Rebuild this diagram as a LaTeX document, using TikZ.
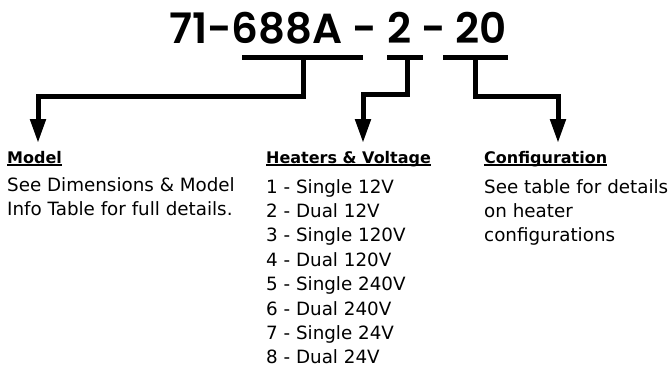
\documentclass[tikz,border=0pt]{standalone}
\usepackage{fontspec}
\setmainfont{DejaVu Sans}
\newfontfamily\titlefont{Poppins}[UprightFont=* SemiBold]
\usetikzlibrary{arrows.meta}

% heading with a thin rule just under the baseline
\newcommand\ulhead[1]{\setbox0\hbox{#1}\rlap{\rule[-2.6pt]{\wd0}{1.3pt}}\box0}

\tikzset{
  bar/.style={line width=5pt},
  lead/.style={line width=5pt,-{Triangle[width=15pt,length=24pt]}},
  heading/.style={anchor=base west,inner sep=0pt,font=\bfseries\fontsize{16}{24}\selectfont},
  info/.style={anchor=north west,inner sep=0pt,align=left,font=\fontsize{18.3}{24.4}\selectfont}
}

\begin{document}
\begin{tikzpicture}[x=1pt,y=-1pt]
  \useasboundingbox (0,0) rectangle (670,368);
  % part number
  \node[anchor=base,inner sep=0pt,font=\titlefont\fontsize{42}{42}\selectfont]
    (code) at (338,43) {71-688A - 2 - 20};
  % bars under the groups
  \draw[bar] (242,57) -- (363,57);
  \draw[bar] (387,57) -- (423,57);
  \draw[bar] (443,57) -- (508,57);
  \coordinate (m0) at (303,57);
  \coordinate (h0) at (407,57);
  \coordinate (c0) at (475,57);
  \coordinate (m1) at (38,143);
  \coordinate (h1) at (363,143);
  \coordinate (c1) at (558,143);
  % leaders
  \draw[lead] (m0) |- (38,96) -- (m1);
  \draw[lead] (h0) |- (363,94) -- (h1);
  \draw[lead] (c0) |- (558,96) -- (c1);
  % texts
  \node[heading] (model) at (7,163) {\ulhead{Model}};
  \node[info] (modeltxt) at (7,177) {See Dimensions \& Model\\Info Table for full details.};
  \node[heading] (heaters) at (266,163) {\ulhead{Heaters \& Voltage}};
  \node[info] (heatlist) at (266,179) {1 - Single 12V\\2 - Dual 12V\\3 - Single 120V\\4 - Dual 120V\\5 - Single 240V\\6 - Dual 240V\\7 - Single 24V\\8 - Dual 24V};
  \node[heading] (config) at (484,163) {\ulhead{Configuration}};
  \node[info] (configtxt) at (484,179) {See table for details\\on heater\\configurations};
\end{tikzpicture}
\end{document}
